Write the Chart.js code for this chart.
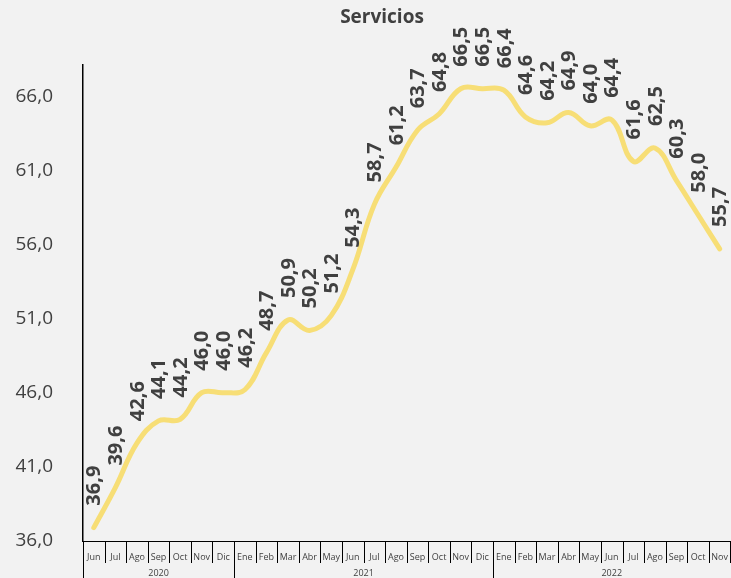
<!DOCTYPE html>
<html>
<head>
<meta charset="utf-8">
<script src="https://cdn.jsdelivr.net/npm/chart.js@4/dist/chart.umd.min.js"></script>
<style>
  html, body { margin: 0; padding: 0; background: #f2f2f2; }
  #wrap { width: 731px; height: 578px; }
</style>
</head>
<body>
<div id="wrap"><canvas id="servicios"></canvas></div>
<script>
var months = ['Jun','Jul','Ago','Sep','Oct','Nov','Dic',
  'Ene','Feb','Mar','Abr','May','Jun','Jul','Ago','Sep','Oct','Nov','Dic',
  'Ene','Feb','Mar','Abr','May','Jun','Jul','Ago','Sep','Oct','Nov'];
var years = ['2020','2021','2022'];
var yearCounts = [7, 12, 11];
var values = [36.9, 39.6, 42.6, 44.1, 44.2, 46.0, 46.0,
  46.2, 48.7, 50.9, 50.2, 51.2, 54.3, 58.7, 61.2, 63.7, 64.8, 66.5, 66.5,
  66.4, 64.6, 64.2, 64.9, 64.0, 64.4, 61.6, 62.5, 60.3, 58.0, 55.7];
var yTicks = [36, 41, 46, 51, 56, 61, 66];

function fmt(v){ return v.toFixed(1).replace('.', ','); }

var extras = {
  id: 'extras',
  afterDatasetsDraw: function(chart){
    var ctx = chart.ctx;
    var meta = chart.getDatasetMeta(0);
    ctx.save();
    ctx.fillStyle = '#404040';
    ctx.font = 'bold 20px "Open Sans"';
    ctx.textAlign = 'left';
    ctx.textBaseline = 'middle';
    meta.data.forEach(function(pt, i){
      ctx.save();
      ctx.translate(pt.x + 1, pt.y - 22);
      ctx.rotate(-Math.PI / 2);
      ctx.fillText(fmt(values[i]), 0, 0);
      ctx.restore();
    });
    ctx.restore();
  },
  afterDraw: function(chart){
    var ctx = chart.ctx;
    var x = chart.scales.x;
    var bottom = chart.chartArea.bottom;
    var half = (x.getPixelForValue(1) - x.getPixelForValue(0)) / 2;
    ctx.save();
    // title
    ctx.fillStyle = '#404040';
    ctx.font = 'bold 19px "Open Sans"';
    ctx.textAlign = 'center';
    ctx.textBaseline = 'middle';
    ctx.fillText('Servicios', 382, 18);
    ctx.strokeStyle = '#000';
    ctx.lineWidth = 1;
    // month separators
    for (var i = 0; i <= months.length; i++) {
      var px = Math.round(x.getPixelForValue(i) - half) + 0.5;
      ctx.beginPath();
      ctx.moveTo(px, bottom);
      ctx.lineTo(px, bottom + 22);
      ctx.stroke();
    }
    // year groups
    ctx.font = '9px "Open Sans"';
    var start = 0;
    years.forEach(function(y, k){
      var end = start + yearCounts[k] - 1;
      var left = x.getPixelForValue(start) - half;
      var right = x.getPixelForValue(end) + half;
      ctx.beginPath();
      ctx.moveTo(Math.round(left) + 0.5, bottom);
      ctx.lineTo(Math.round(left) + 0.5, 578);
      ctx.stroke();
      ctx.fillText(y, (left + right) / 2, 573);
      start = end + 1;
    });
    ctx.restore();
  }
};

new Chart(document.getElementById('servicios'), {
  type: 'line',
  data: {
    labels: months,
    datasets: [{
      data: values,
      borderColor: '#f7de76',
      borderWidth: 5,
      borderCapStyle: 'round',
      tension: 0.4,
      pointRadius: 0,
      fill: false
    }]
  },
  options: {
    responsive: true,
    maintainAspectRatio: false,
    animation: false,
    layout: { padding: { top: 65, left: 0, right: 0, bottom: 0 } },
    plugins: { legend: { display: false }, tooltip: { enabled: false } },
    scales: {
      x: {
        offset: true,
        border: { display: true, color: '#000', width: 1 },
        grid: { display: false },
        afterFit: function(s){ s.height = 37; },
        ticks: { color: '#404040', font: { family: 'Open Sans', size: 9 }, padding: 3, maxRotation: 0, autoSkip: false }
      },
      y: {
        min: 36,
        max: 68.1,
        border: { display: true, color: '#000', width: 1.5 },
        grid: { display: false },
        afterFit: function(s){ s.width = 83; },
        afterBuildTicks: function(scale){
          scale.ticks = yTicks.map(function(v){ return { value: v }; });
        },
        ticks: {
          color: '#404040',
          font: { family: 'Open Sans', size: 19 },
          padding: 22,
          callback: function(v){ return fmt(v); }
        }
      }
    }
  },
  plugins: [extras]
});
</script>
</body>
</html>
